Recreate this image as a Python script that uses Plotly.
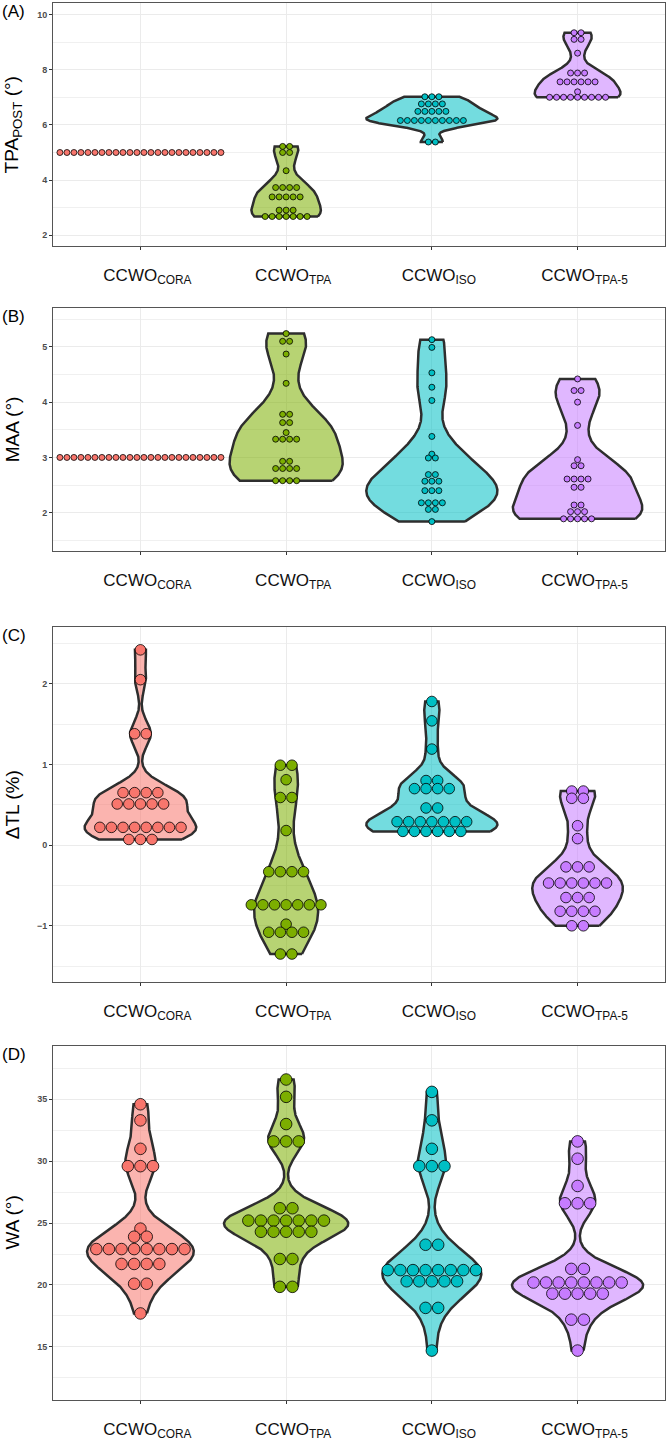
import numpy as np
import plotly.graph_objects as go

# ---------------- data ----------------
groups = ["CCWO_CORA", "CCWO_TPA", "CCWO_ISO", "CCWO_TPA-5"]
tick_labels = ["CCWO<sub>CORA</sub>", "CCWO<sub>TPA</sub>", "CCWO<sub>ISO</sub>", "CCWO<sub>TPA-5</sub>"]
colors = ["#F8766D", "#7CAE00", "#00BFC4", "#C77CFF"]

# (A) TPA_POST (deg)
tpa_post_cora = [5.0, 5.0, 5.0, 5.0, 5.0, 5.0, 5.0, 5.0, 5.0, 5.0, 5.0, 5.0,
                 5.0, 5.0, 5.0, 5.0, 5.0, 5.0, 5.0, 5.0, 5.0, 5.0, 5.0, 5.0]
tpa_post_tpa = [5.22, 5.22, 5.0, 5.0, 4.34, 3.73, 3.73, 3.73, 3.73, 3.39, 3.39, 3.39,
                3.39, 3.39, 2.91, 2.91, 2.91, 2.68, 2.68, 2.68, 2.68, 2.68, 2.68, 2.68]
tpa_post_iso = [7.02, 7.02, 7.02, 6.76, 6.76, 6.76, 6.76, 6.49, 6.49, 6.49, 6.49, 6.49,
                6.16, 6.16, 6.16, 6.16, 6.16, 6.16, 6.16, 6.16, 6.16, 6.16, 5.38, 5.38]
tpa_post_tpa5 = [9.34, 9.34, 9.1, 9.1, 8.6, 7.88, 7.88, 7.88, 7.56, 7.56, 7.56, 7.56,
                 7.56, 7.56, 7.2, 7.0, 7.0, 7.0, 7.0, 7.0, 7.0, 7.0, 7.0, 7.0]

# (B) MAA (deg)
maa_cora = [3.0, 3.0, 3.0, 3.0, 3.0, 3.0, 3.0, 3.0, 3.0, 3.0, 3.0, 3.0,
            3.0, 3.0, 3.0, 3.0, 3.0, 3.0, 3.0, 3.0, 3.0, 3.0, 3.0, 3.0]
maa_tpa = [5.24, 5.10, 5.10, 4.87, 4.34, 3.78, 3.78, 3.63, 3.63, 3.45, 3.33, 3.33,
           3.33, 3.33, 2.93, 2.93, 2.80, 2.80, 2.80, 2.80, 2.58, 2.58, 2.58, 2.58]
maa_iso = [5.13, 4.99, 4.53, 4.27, 4.03, 3.38, 3.06, 2.99, 2.99, 2.69, 2.69, 2.57,
           2.57, 2.57, 2.40, 2.40, 2.40, 2.18, 2.18, 2.18, 2.18, 2.06, 2.06, 1.84]
maa_tpa5 = [4.42, 4.21, 4.21, 4.0, 3.58, 2.96, 2.85, 2.85, 2.61, 2.61, 2.61, 2.61,
            2.46, 2.46, 2.14, 2.14, 2.02, 2.02, 2.02, 1.89, 1.89, 1.89, 1.89, 1.89]

# (C) delta TL (%)
dtl_cora = [2.42, 2.05, 1.38, 1.38, 0.65, 0.65, 0.65, 0.65, 0.51, 0.51, 0.51, 0.51,
            0.51, 0.22, 0.22, 0.22, 0.22, 0.22, 0.22, 0.22, 0.22, 0.07, 0.07, 0.07]
dtl_tpa = [0.99, 0.99, 0.81, 0.59, 0.59, 0.18, -0.33, -0.33, -0.33, -0.33, -0.74, -0.74,
           -0.74, -0.74, -0.74, -0.74, -0.74, -0.98, -1.08, -1.08, -1.08, -1.08, -1.35, -1.35]
dtl_iso = [1.78, 1.54, 1.19, 0.80, 0.80, 0.70, 0.70, 0.70, 0.70, 0.46, 0.46, 0.29,
           0.29, 0.29, 0.29, 0.29, 0.29, 0.29, 0.17, 0.17, 0.17, 0.17, 0.17, 0.17]
dtl_tpa5 = [0.67, 0.67, 0.58, 0.58, 0.24, 0.08, -0.27, -0.27, -0.27, -0.47, -0.47, -0.47,
            -0.47, -0.47, -0.47, -0.65, -0.65, -0.65, -0.82, -0.82, -0.82, -0.82, -1.0, -1.0]

# (D) WA (deg)
wa_cora = [34.6, 33.3, 31.0, 29.6, 29.6, 29.6, 24.55, 23.9, 23.9, 22.9, 22.9, 22.9,
           22.9, 22.9, 22.9, 22.9, 22.9, 21.7, 21.7, 21.7, 21.7, 20.1, 20.1, 17.7]
wa_tpa = [36.6, 35.2, 33.0, 31.6, 31.6, 31.6, 26.2, 26.2, 25.2, 25.2, 25.2, 25.2,
          25.2, 25.2, 25.2, 24.3, 24.3, 24.3, 24.3, 24.3, 22.1, 22.1, 19.85, 19.85]
wa_iso = [35.6, 33.3, 31.0, 29.6, 29.6, 29.6, 23.25, 23.25, 21.2, 21.2, 21.2, 21.2,
          21.2, 21.2, 21.2, 21.2, 20.3, 20.3, 20.3, 20.3, 20.3, 18.15, 18.15, 14.7]
wa_tpa5 = [31.6, 30.2, 28.0, 26.6, 26.6, 26.6, 21.3, 21.3, 20.2, 20.2, 20.2, 20.2,
           20.2, 20.2, 20.2, 20.2, 19.3, 19.3, 19.3, 19.3, 19.3, 17.2, 17.2, 14.7]

panel_data = [
    [tpa_post_cora, tpa_post_tpa, tpa_post_iso, tpa_post_tpa5],
    [maa_cora, maa_tpa, maa_iso, maa_tpa5],
    [dtl_cora, dtl_tpa, dtl_iso, dtl_tpa5],
    [wa_cora, wa_tpa, wa_iso, wa_tpa5],
]
y_titles = ["TPA<sub>POST</sub> (°)", "MAA (°)", "ΔTL (%)", "WA (°)"]
panel_letters = ["(A)", "(B)", "(C)", "(D)"]

# ---------------- layout / style ----------------
W, H = 669, 1441
X_LEFT, X_RIGHT = 53, 665
panel_px = [(3.5, 247), (309, 553), (629, 985), (1049, 1404)]  # top, bottom in px
y_ranges = [(1.6, 10.4), (1.3, 5.7), (-1.7, 2.7), (10.7, 39.3)]
y_dticks = [2, 1, 1, 5]
y_minor = [1, 0.5, 0.5, 2.5]
dot_px = [7.0, 7.0, 11.6, 12.6]
x_range = (-0.6, 3.6)
px_per_x = (X_RIGHT - X_LEFT) / (x_range[1] - x_range[0])
VIOLIN_WIDTH = 0.9


def hex_rgba(h, a):
    h = h.lstrip("#")
    return "rgba(%d,%d,%d,%.2f)" % (int(h[0:2], 16), int(h[2:4], 16), int(h[4:6], 16), a)


def bw_nrd0(x):
    x = np.asarray(x, float)
    hi = np.std(x, ddof=1)
    q75, q25 = np.percentile(x, [75, 25])
    lo = min(hi, (q75 - q25) / 1.34)
    if lo == 0:
        lo = hi if hi > 0 else (abs(x[0]) if x[0] != 0 else 1.0)
    return 0.9 * lo * len(x) ** (-0.2)


def kde(x, n=512):
    x = np.asarray(x, float)
    bw = bw_nrd0(x)
    ys = np.linspace(x.min(), x.max(), n)
    d = np.exp(-0.5 * ((ys[:, None] - x[None, :]) / bw) ** 2).sum(axis=1)
    d /= (len(x) * bw * np.sqrt(2 * np.pi))
    return ys, d


fig = go.Figure()
layout_axes = {}
annotations = []

for p, data in enumerate(panel_data):
    xa = "x" if p == 0 else "x%d" % (p + 1)
    ya = "y" if p == 0 else "y%d" % (p + 1)

    # violins (ggplot-like: trim, scale="area")
    dens = []
    for vals in data:
        if np.std(vals) == 0:
            dens.append(None)
        else:
            dens.append(kde(vals))
    dmax = max(d[1].max() for d in dens if d is not None)
    for i, d in enumerate(dens):
        if d is None:
            continue
        ys, dd = d
        hw = dd / dmax * VIOLIN_WIDTH / 2
        xs = np.concatenate([i + hw, (i - hw)[::-1], [i + hw[0]]])
        yy = np.concatenate([ys, ys[::-1], [ys[0]]])
        fig.add_trace(go.Scatter(
            x=xs, y=yy, xaxis=xa, yaxis=ya, mode="lines", fill="toself",
            fillcolor=hex_rgba(colors[i], 0.55),
            line=dict(color="#2E2E2E", width=2.5), hoverinfo="skip", showlegend=False))

    # dots (centred stacks)
    dstep = dot_px[p] / px_per_x
    for i, vals in enumerate(data):
        xs, yv = [], []
        uniq = []
        for v in vals:
            if v not in uniq:
                uniq.append(v)
        for v in uniq:
            n = vals.count(v)
            for k in range(n):
                xs.append(i + (k - (n - 1) / 2) * dstep)
                yv.append(v)
        fig.add_trace(go.Scatter(
            x=xs, y=yv, xaxis=xa, yaxis=ya, mode="markers",
            marker=dict(size=dot_px[p] - 1.0, color=colors[i],
                        line=dict(color="#000000", width=0.8)),
            hovertemplate=groups[i] + ": %{y}<extra></extra>", showlegend=False))

    top, bot = panel_px[p]
    dom = [1 - bot / H, 1 - top / H]
    layout_axes["xaxis" if p == 0 else "xaxis%d" % (p + 1)] = dict(
        domain=[X_LEFT / W, X_RIGHT / W], range=list(x_range), anchor=ya,
        tickmode="array", tickvals=[0, 1, 2, 3], ticktext=tick_labels,
        showgrid=True, gridcolor="#EBEBEB", gridwidth=1, zeroline=False,
        showline=True, mirror=True, linecolor="#555555", linewidth=1,
        ticks="outside", ticklen=3, tickcolor="#333333",
        tickfont=dict(family="Liberation Sans, Arial", size=17, color="#111111"),
        ticklabelstandoff=10, ticklabelshift=7, fixedrange=True)
    layout_axes["yaxis" if p == 0 else "yaxis%d" % (p + 1)] = dict(
        domain=dom, range=list(y_ranges[p]), anchor=xa,
        tick0=0, dtick=y_dticks[p],
        minor=dict(dtick=y_minor[p], tick0=0, showgrid=True, gridcolor="#F0F0F0", gridwidth=1),
        showgrid=True, gridcolor="#EBEBEB", gridwidth=1, zeroline=False,
        showline=True, mirror=True, linecolor="#555555", linewidth=1,
        ticks="outside", ticklen=3, tickcolor="#333333",
        tickfont=dict(family="Liberation Sans, Arial", size=9, color="#4D4D4D", weight="bold"),
        fixedrange=True)

    annotations.append(dict(
        x=12.5 / W, y=1 - (top + bot) / 2 / H, xref="paper", yref="paper",
        text=y_titles[p], textangle=-90, showarrow=False, xanchor="center", yanchor="middle",
        font=dict(family="Liberation Sans, Arial", size=19, color="#000000")))
    annotations.append(dict(
        x=0, y=1 - (top + 8) / H, xref="paper", yref="paper", text=panel_letters[p],
        showarrow=False, xanchor="left", yanchor="middle",
        font=dict(family="Liberation Sans, Arial", size=17, color="#000000")))

fig.update_layout(
    width=W, height=H, margin=dict(l=0, r=0, t=0, b=0),
    paper_bgcolor="white", plot_bgcolor="white", showlegend=False,
    annotations=annotations, **layout_axes)

fig.write_html("out.html")
